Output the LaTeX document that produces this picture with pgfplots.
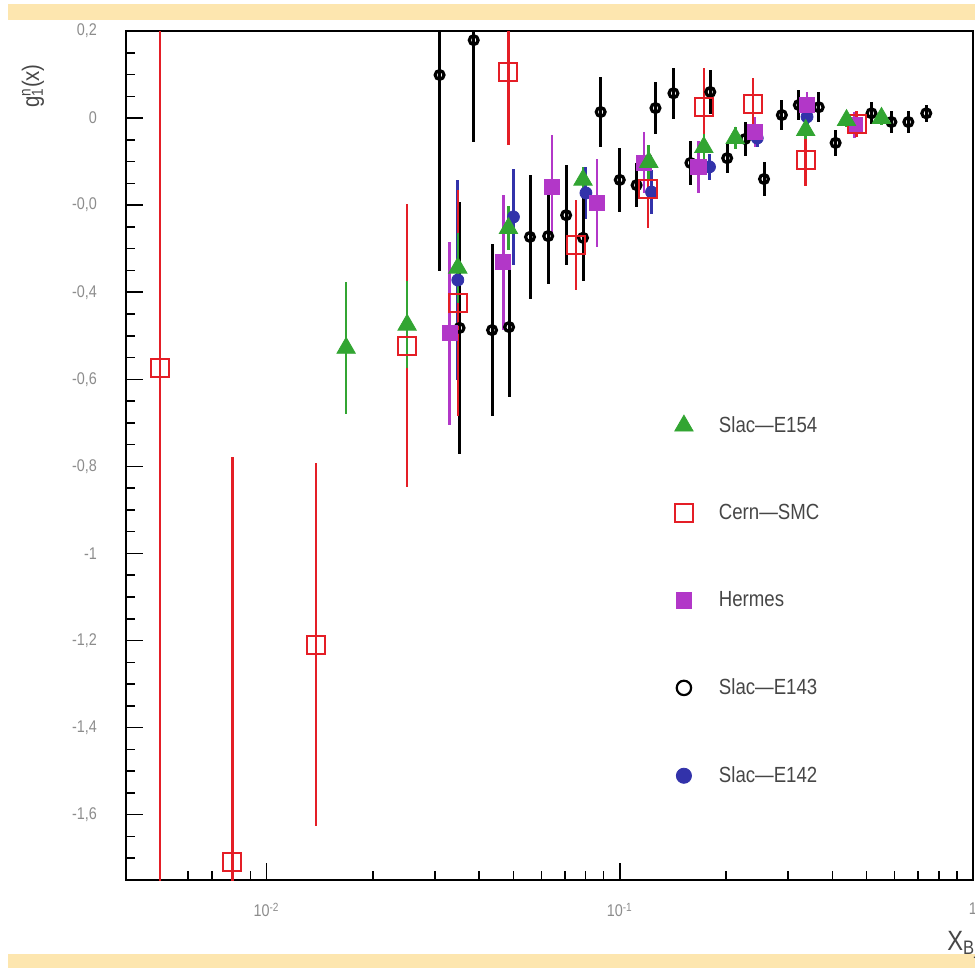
\documentclass[border=0pt]{standalone}
\usepackage{pgfplots}
\pgfplotsset{compat=1.18}
\usepackage{fontspec}
\setmainfont{Liberation Sans}[FakeStretch=0.85]
\definecolor{band}{RGB}{253,230,175}
\definecolor{cred}{RGB}{228,30,38}
\definecolor{cgreen}{RGB}{50,165,50}
\definecolor{cmag}{RGB}{178,55,200}
\definecolor{cblue}{RGB}{50,50,170}
\definecolor{tickgray}{RGB}{140,140,140}
\definecolor{txtgray}{RGB}{70,70,70}
\begin{document}
\begin{tikzpicture}
\fill[band] (4bp,-2bp) rectangle (487.5bp,-10bp);
\fill[band] (4bp,-477bp) rectangle (487.5bp,-484bp);
\begin{axis}[
  at={(63bp,-440bp)}, anchor=south west,
  scale only axis, width=423.5bp, height=424.5bp,
  xmode=log, xmin=0.004, xmax=1, ymin=-1.75, ymax=0.2,
  axis line style={line width=1bp},
  tick pos=left, tick align=inside,
  major tick length=8.5bp, minor tick length=4.5bp,
  every tick/.style={black, line width=0.8bp},
  xtick={0.01,0.1,1},
  xticklabels={10\textsuperscript{-2},10\textsuperscript{-1},1},
  minor xtick={0.005,0.006,0.007,0.008,0.009,0.02,0.03,0.04,0.05,0.06,0.07,0.08,0.09,0.2,0.3,0.4,0.5,0.6,0.7,0.8,0.9},
  ytick={-1.6,-1.4,-1.2,-1,-0.8,-0.6,-0.4,-0.2,0,0.2},
  yticklabels={{-1,6},{-1,4},{-1,2},{-1},{-0,8},{-0,6},{-0,4},{-0,0},{0},{0,2}},
  minor ytick={-1.75,-1.7,-1.65,-1.55,-1.5,-1.45,-1.35,-1.3,-1.25,-1.15,-1.1,-1.05,-0.95,-0.9,-0.85,-0.75,-0.7,-0.65,-0.55,-0.5,-0.45,-0.35,-0.3,-0.25,-0.15,-0.1,-0.05,0.05,0.1,0.15},
  xticklabel style={font=\fontsize{8.5}{10}\selectfont, text=tickgray, yshift=-8bp},
  yticklabel style={font=\fontsize{8.5}{10}\selectfont, text=tickgray, xshift=-11bp},
  legend style={draw=none, fill=none, at={(0.634,0.556)}, anchor=north west,
    font=\fontsize{11}{13}\selectfont, text=txtgray, row sep=30.5bp},
  legend cell align=left,
  legend reversed,
  legend image code/.code={\draw[#1] plot coordinates {(0.25cm,0cm)}; \path (0cm,0cm) (0.79cm,0cm);},
]
% Slac-E142
\addplot[only marks, color=cblue, mark=*, mark size=3bp,
  legend image post style={mark size=3.8bp},
  error bars/.cd, y dir=both, y explicit, error mark=none,
  error bar style={line width=1.5bp, cblue}] coordinates {
(0.0348,-0.372) +- (0,0.23)
(0.0500,-0.227) +- (0,0.11)
(0.0802,-0.172) +- (0,0.06)
(0.1230,-0.170) +- (0,0.05)
(0.1795,-0.112) +- (0,0.03)
(0.2450,-0.046) +- (0,0.02)
(0.3390,0.003) +- (0,0.02)
};
\addlegendentry{Slac—E142}
% Slac-E143
\addplot[only marks, color=black, mark=o, mark size=2.2bp,
  mark options={line width=1.6bp, fill=white, solid},
  legend image post style={mark size=3.6bp, mark options={line width=1.1bp, fill=white, solid}},
  error bars/.cd, y dir=both, y explicit, error mark=none,
  error bar style={line width=1.5bp, black}] coordinates {
(0.0309,0.099) +- (0,0.45)
(0.0386,0.179) +- (0,0.235)
(0.0352,-0.482) +- (0,0.29)
(0.0435,-0.487) +- (0,0.197)
(0.0486,-0.480) +- (0,0.16)
(0.0557,-0.273) +- (0,0.143)
(0.0627,-0.271) +- (0,0.11)
(0.0705,-0.223) +- (0,0.115)
(0.0787,-0.275) +- (0,0.10)
(0.0883,0.014) +- (0,0.08)
(0.1000,-0.142) +- (0,0.074)
(0.1116,-0.154) +- (0,0.05)
(0.1262,0.023) +- (0,0.06)
(0.1419,0.057) +- (0,0.058)
(0.1585,-0.103) +- (0,0.05)
(0.1804,0.060) +- (0,0.05)
(0.2014,-0.092) +- (0,0.035)
(0.2264,-0.048) +- (0,0.04)
(0.2561,-0.140) +- (0,0.04)
(0.2877,0.007) +- (0,0.035)
(0.3213,0.030) +- (0,0.035)
(0.3658,0.025) +- (0,0.035)
(0.4084,-0.057) +- (0,0.03)
(0.5160,0.011) +- (0,0.025)
(0.5875,-0.009) +- (0,0.025)
(0.6561,-0.009) +- (0,0.025)
(0.7375,0.011) +- (0,0.02)
};
\addlegendentry{Slac—E143}
% Hermes
\addplot[only marks, color=cmag, mark=square*, mark size=3.8bp,
  error bars/.cd, y dir=both, y explicit, error mark=none,
  error bar style={line width=1.3bp, cmag}] coordinates {
(0.0330,-0.494) +- (0,0.21)
(0.0468,-0.331) +- (0,0.155)
(0.0643,-0.158) +- (0,0.12)
(0.0861,-0.195) +- (0,0.10)
(0.1170,-0.103) +- (0,0.07)
(0.1670,-0.112) +- (0,0.06)
(0.2415,-0.032) +- (0,0.035)
(0.3390,0.030) +- (0,0.03)
(0.4625,-0.016) +- (0,0.03)
};
\addlegendentry{Hermes}
% Cern-SMC
\addplot[only marks, color=cred, mark=square, mark size=4.5bp,
  mark options={line width=1bp, solid},
  error bars/.cd, y dir=both, y explicit, error mark=none,
  error bar style={line width=1.2bp, cred}] coordinates {
(0.0050,-0.574) +- (0,1.25)
(0.0080,-1.708) +- (0,0.93)
(0.0138,-1.210) +- (0,0.417)
(0.0250,-0.523) +- (0,0.325)
(0.0348,-0.425) +- (0,0.26)
(0.0484,0.106) +- (0,0.168)
(0.0751,-0.292) +- (0,0.103)
(0.1200,-0.163) +- (0,0.09)
(0.1730,0.025) +- (0,0.09)
(0.2380,0.032) +- (0,0.06)
(0.3360,-0.096) +- (0,0.06)
(0.4680,-0.014) +- (0,0.03)
};
\addlegendentry{Cern—SMC}
% Slac-E154
\addplot[only marks, color=cgreen, mark=triangle*, mark size=5.3bp,
  error bars/.cd, y dir=both, y explicit, error mark=none,
  error bar style={line width=1.3bp, cgreen}] coordinates {
(0.0168,-0.528) +- (0,0.152)
(0.0250,-0.475) +- (0,0.10)
(0.0348,-0.344) +- (0,0.08)
(0.0484,-0.253) +- (0,0.05)
(0.0787,-0.142) +- (0,0.03)
(0.1208,-0.101) +- (0,0.04)
(0.1730,-0.067) +- (0,0.03)
(0.2123,-0.046) +- (0,0.025)
(0.3360,-0.028) +- (0,0.02)
(0.4385,-0.005) +- (0,0.015)
(0.5508,0.000) +- (0,0.015)
};
\addlegendentry{Slac—E154}
\end{axis}
\node[rotate=90, text=txtgray, font=\fontsize{12}{14}\selectfont] at (16.5bp,-43bp)
  {g\rlap{\textsubscript{1}}\textsuperscript{n}(x)};
\node[anchor=base west, inner sep=0pt, text=txtgray, font=\fontsize{14}{16}\selectfont] at (473.5bp,-475bp)
  {X\textsubscript{Bj}};
\pgfresetboundingbox
\useasboundingbox (0bp,0bp) rectangle (487.5bp,-484bp);
\end{tikzpicture}
\end{document}
